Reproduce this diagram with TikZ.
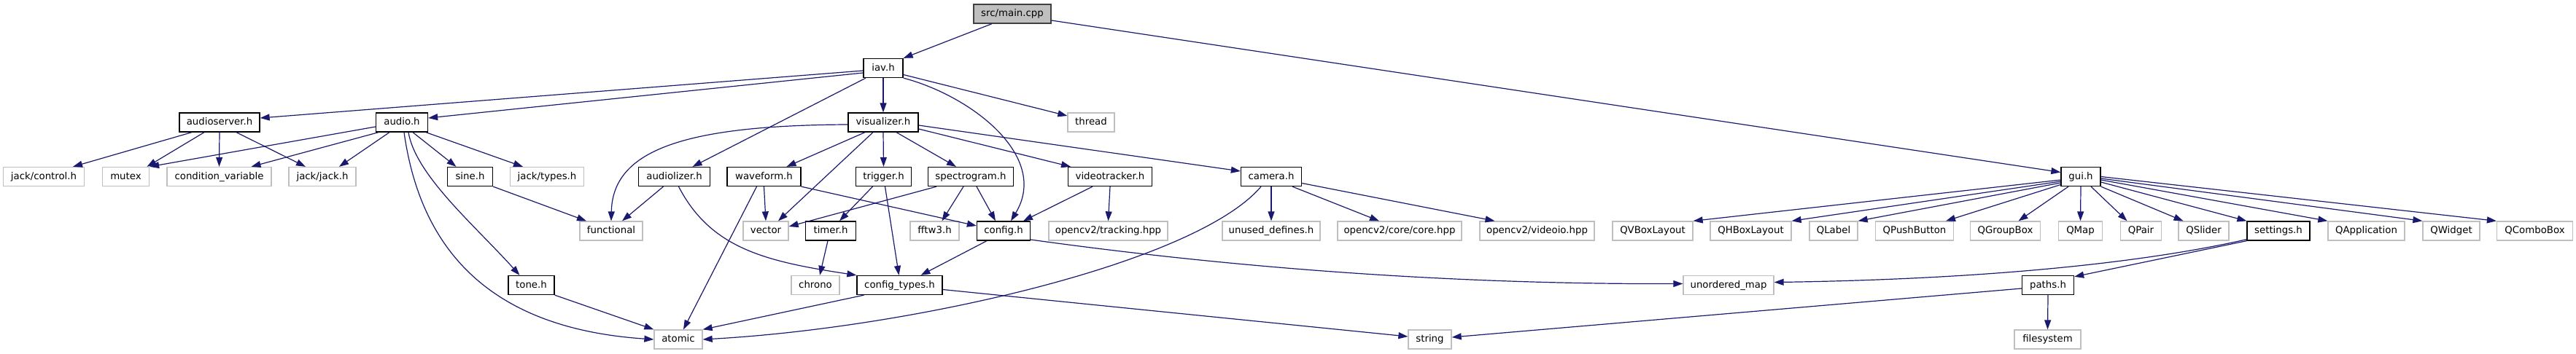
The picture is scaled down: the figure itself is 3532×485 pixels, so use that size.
\documentclass[tikz,border=0pt]{standalone}
\usepackage{fontspec}
\setmainfont{DejaVu Sans}
\usetikzlibrary{arrows.meta}
\definecolor{edgeblue}{HTML}{191970}
\definecolor{extgray}{HTML}{BFBFBF}
\definecolor{rootfill}{HTML}{BFBFBF}
\definecolor{rootline}{HTML}{404040}
\tikzset{
  base/.style={rectangle, inner xsep=3pt, inner ysep=0pt, minimum height=26pt,
    text height=10pt, text depth=2.6pt, font=\fontsize{13.3}{15}\selectfont, line width=1.3pt},
  doc/.style={base, draw=black, fill=white},
  ext/.style={base, draw=extgray, fill=white},
  root/.style={base, draw=rootline, fill=rootfill},
  edge/.style={draw=edgeblue, line width=1.2pt, -{Triangle[length=13pt,width=9pt]}}
}
\begin{document}
\begin{tikzpicture}[x=1pt,y=-1pt]
\useasboundingbox (0,0) rectangle (3532,485);
% rank 0
\node[root, minimum width=106pt] (main) at (1388,19) {src/main.cpp};
% rank 1
\node[doc, minimum width=54pt] (iav) at (1211,93.5) {iav.h};
% rank 2
\node[doc, minimum width=110pt] (audioserver) at (301,168) {audioserver.h};
\node[doc, minimum width=71pt] (audio) at (551,168) {audio.h};
\node[doc, minimum width=96pt] (visualizer) at (1211,168) {visualizer.h};
\node[ext, minimum width=64pt] (thread) at (1496,168) {thread};
% rank 3
\node[ext, minimum width=111pt] (jackcontrol) at (60,242.5) {jack/control.h};
\node[ext, minimum width=64pt] (mutex) at (172.5,242.5) {mutex};
\node[ext, minimum width=143pt] (condvar) at (300.5,242.5) {condition\_variable};
\node[ext, minimum width=92pt] (jackjack) at (442,242.5) {jack/jack.h};
\node[doc, minimum width=62pt] (sine) at (644.5,242.5) {sine.h};
\node[ext, minimum width=101pt] (jacktypes) at (750,242.5) {jack/types.h};
\node[doc, minimum width=98pt] (audiolizer) at (924.5,242.5) {audiolizer.h};
\node[doc, minimum width=101pt] (waveform) at (1047.5,242.5) {waveform.h};
\node[doc, minimum width=76pt] (trigger) at (1211.5,242.5) {trigger.h};
\node[doc, minimum width=117pt] (spectrogram) at (1331,242.5) {spectrogram.h};
\node[doc, minimum width=115pt] (videotracker) at (1522,242.5) {videotracker.h};
\node[doc, minimum width=83pt] (camera) at (1743,242.5) {camera.h};
\node[doc, minimum width=54pt] (gui) at (2853,242.5) {gui.h};
% rank 4
\node[ext, minimum width=86pt] (functional) at (838,317) {functional};
\node[ext, minimum width=62pt] (vector) at (1050,317) {vector};
\node[doc, minimum width=69pt] (timer) at (1139,317) {timer.h};
\node[ext, minimum width=67pt] (fftw3) at (1281.5,317) {fftw3.h};
\node[doc, minimum width=73pt] (config) at (1376,317) {config.h};
\node[ext, minimum width=163pt] (tracking) at (1519.5,317) {opencv2/tracking.hpp};
\node[ext, minimum width=134pt] (unused) at (1743,317) {unused\_defines.h};
\node[ext, minimum width=170pt] (corehpp) at (1919,317) {opencv2/core/core.hpp};
\node[ext, minimum width=157pt] (videoio) at (2107.5,317) {opencv2/videoio.hpp};
\node[ext, minimum width=110pt] (qvbox) at (2266,317) {QVBoxLayout};
\node[ext, minimum width=111pt] (qhbox) at (2400.5,317) {QHBoxLayout};
\node[ext, minimum width=66pt] (qlabel) at (2514,317) {QLabel};
\node[ext, minimum width=107pt] (qpush) at (2625,317) {QPushButton};
\node[ext, minimum width=96pt] (qgroup) at (2749.5,317) {QGroupBox};
\node[ext, minimum width=60pt] (qmap) at (2852.5,317) {QMap};
\node[ext, minimum width=56pt] (qpair) at (2935.5,317) {QPair};
\node[ext, minimum width=69pt] (qslider) at (3021.5,317) {QSlider};
\node[doc, minimum width=86pt] (settings) at (3124,317) {settings.h};
\node[ext, minimum width=105pt] (qapp) at (3244.5,317) {QApplication};
\node[ext, minimum width=78pt] (qwidget) at (3361,317) {QWidget};
\node[ext, minimum width=104pt] (qcombo) at (3475.5,317) {QComboBox};
% rank 5
\node[doc, minimum width=63pt] (tone) at (728.5,391.5) {tone.h};
\node[ext, minimum width=66pt] (chrono) at (1118,391.5) {chrono};
\node[doc, minimum width=117pt] (configtypes) at (1233.5,391.5) {config\_types.h};
\node[ext, minimum width=124pt] (unorderedmap) at (2370,391.5) {unordered\_map};
\node[doc, minimum width=71pt] (paths) at (2808,391.5) {paths.h};
% rank 6
\node[ext, minimum width=66pt] (atomic) at (930,466) {atomic};
\node[ext, minimum width=59pt] (string) at (1960.5,466) {string};
\node[ext, minimum width=91pt] (filesystem) at (2807.5,466) {filesystem};

% edges from main
\draw[edge] ([xshift=-28pt]main.south) -- (iav.north east);
\draw[edge] ([yshift=-9pt]main.east) -- ([yshift=6pt]gui.west);
% iav
\draw[edge] ([yshift=-3.5pt]iav.west) -- ([yshift=6pt]audioserver.east);
\draw[edge] ([yshift=-6.5pt]iav.west) -- ([yshift=6pt]audio.east);
\draw[edge] (iav.south) -- (visualizer.north);
\draw[edge] ([yshift=-9pt]iav.east) -- ([yshift=9pt]thread.west);
\draw[edge] ([xshift=-24pt]iav.south) -- ([xshift=25pt]audiolizer.north);
\draw[edge] (iav.south east) .. controls +(92,24) and +(54,-89) .. ([xshift=10pt]config.north);
% visualizer
\draw[edge] ([yshift=-3pt]visualizer.west) .. controls +(-233,1) and +(2,-94) .. (functional.north);
\draw[edge] ([xshift=-25pt]visualizer.south) -- ([xshift=31pt]waveform.north);
\draw[edge] ([xshift=-14pt]visualizer.south) -- ([xshift=17pt]vector.north);
\draw[edge] (visualizer.south) -- (trigger.north);
\draw[edge] ([xshift=18pt]visualizer.south) -- ([xshift=-20pt]spectrogram.north);
\draw[edge] ([yshift=-9pt]visualizer.east) -- ([xshift=-54pt]videotracker.north);
\draw[edge] ([yshift=-4pt]visualizer.east) -- ([yshift=7.5pt]camera.west);
% audioserver
\draw[edge] ([xshift=-38pt]audioserver.south) -- ([xshift=40pt]jackcontrol.north);
\draw[edge] ([xshift=-21pt]audioserver.south) -- ([xshift=29pt]mutex.north);
\draw[edge] (audioserver.south) -- (condvar.north);
\draw[edge] ([xshift=23pt]audioserver.south) -- ([xshift=-23pt]jackjack.north);
% audio
\draw[edge] ([yshift=-6pt]audio.west) -- (mutex.north east);
\draw[edge] ([xshift=-32pt]audio.south) -- ([xshift=44pt]condvar.north);
\draw[edge] ([xshift=-17pt]audio.south) -- ([xshift=23pt]jackjack.north);
\draw[edge] ([xshift=15pt]audio.south) -- ([xshift=-19pt]sine.north);
\draw[edge] ([xshift=33pt]audio.south) -- ([xshift=-33pt]jacktypes.north);
\draw[edge] ([xshift=9pt]audio.south) .. controls +(10,59) and +(-62,-69) .. ([xshift=-16pt]tone.north);
\draw[edge] ([xshift=3pt]audio.south) .. controls +(21,149) and +(-237,-16) .. (atomic.west);
% sine, tone
\draw[edge] (sine.south east) -- ([xshift=-34pt]functional.north);
\draw[edge] (tone.south east) -- (atomic.north west);
% audiolizer
\draw[edge] ([xshift=-15pt]audiolizer.south) -- ([xshift=15pt]functional.north);
\draw[edge] ([xshift=6pt]audiolizer.south) .. controls +(44,85) and +(-125,-19) .. (configtypes.north west);
% waveform
\draw[edge] (waveform.south) -- (vector.north);
\draw[edge] ([xshift=-10pt]waveform.south) -- ([xshift=7pt]atomic.north);
\draw[edge] (waveform.south east) -- ([yshift=7pt]config.west);
% trigger
\draw[edge] ([xshift=-15pt]trigger.south) -- ([xshift=12pt]timer.north);
\draw[edge] ([xshift=2pt]trigger.south) -- ([xshift=-1pt]configtypes.north);
% spectrogram
\draw[edge] ([xshift=-47pt]spectrogram.south) -- ([yshift=6pt]vector.east);
\draw[edge] ([xshift=-10pt]spectrogram.south) -- ([xshift=10pt]fftw3.north);
\draw[edge] ([xshift=8pt]spectrogram.south) -- ([xshift=-11pt]config.north);
% videotracker
\draw[edge] ([xshift=-24pt]videotracker.south) -- ([xshift=27pt]config.north);
\draw[edge] (videotracker.south) -- (tracking.north);
% camera
\draw[edge] ([xshift=-14pt]camera.south) .. controls +(-89,105) and +(287,-16) .. (atomic.east);
\draw[edge] (camera.south) -- (unused.north);
\draw[edge] ([xshift=29pt]camera.south) -- ([xshift=-28pt]corehpp.north);
\draw[edge] ([yshift=-9pt]camera.east) -- ([xshift=-58pt]videoio.north);
% timer
\draw[edge] ([xshift=-4pt]timer.south) -- ([xshift=6pt]chrono.north);
% config
\draw[edge] ([xshift=-23pt]config.south) -- ([xshift=29pt]configtypes.north);
\draw[edge] ([yshift=-12pt]config.east) .. controls +(287,40) and +(-308,1) .. ([yshift=2pt]unorderedmap.west);
% config_types
\draw[edge] ([xshift=-49pt]configtypes.south) -- (atomic.north east);
\draw[edge] ([yshift=-6pt]configtypes.east) -- ([yshift=4pt]string.west);
% gui
\draw[edge] ([yshift=-4.5pt]gui.west) -- (qvbox.north east);
\draw[edge] ([yshift=-6.5pt]gui.west) -- (qhbox.north east);
\draw[edge] ([yshift=-8.5pt]gui.west) -- (qlabel.north east);
\draw[edge] ([yshift=-11pt]gui.west) -- ([xshift=43pt]qpush.north);
\draw[edge] ([xshift=-17pt]gui.south) -- ([xshift=18pt]qgroup.north);
\draw[edge] (gui.south) -- (qmap.north);
\draw[edge] ([xshift=14pt]gui.south) -- ([xshift=-19pt]qpair.north);
\draw[edge] (gui.south east) -- ([xshift=-28pt]qslider.north);
\draw[edge] ([yshift=-7.5pt]gui.east) -- (settings.north west);
\draw[edge] ([yshift=-4.5pt]gui.east) -- (qapp.north west);
\draw[edge] ([yshift=-2.5pt]gui.east) -- (qwidget.north west);
\draw[edge] (gui.east) -- (qcombo.north west);
% settings
\draw[edge] ([yshift=2pt]settings.south west) .. controls +(-181,41) and +(217,-3) .. ([yshift=4pt]unorderedmap.east);
\draw[edge] (settings.south west) -- ([yshift=-2pt]paths.north east);
% paths
\draw[edge] ([yshift=-4.5pt]paths.west) -- ([yshift=3pt]string.east);
\draw[edge] (paths.south) -- (filesystem.north);
\end{tikzpicture}
\end{document}
